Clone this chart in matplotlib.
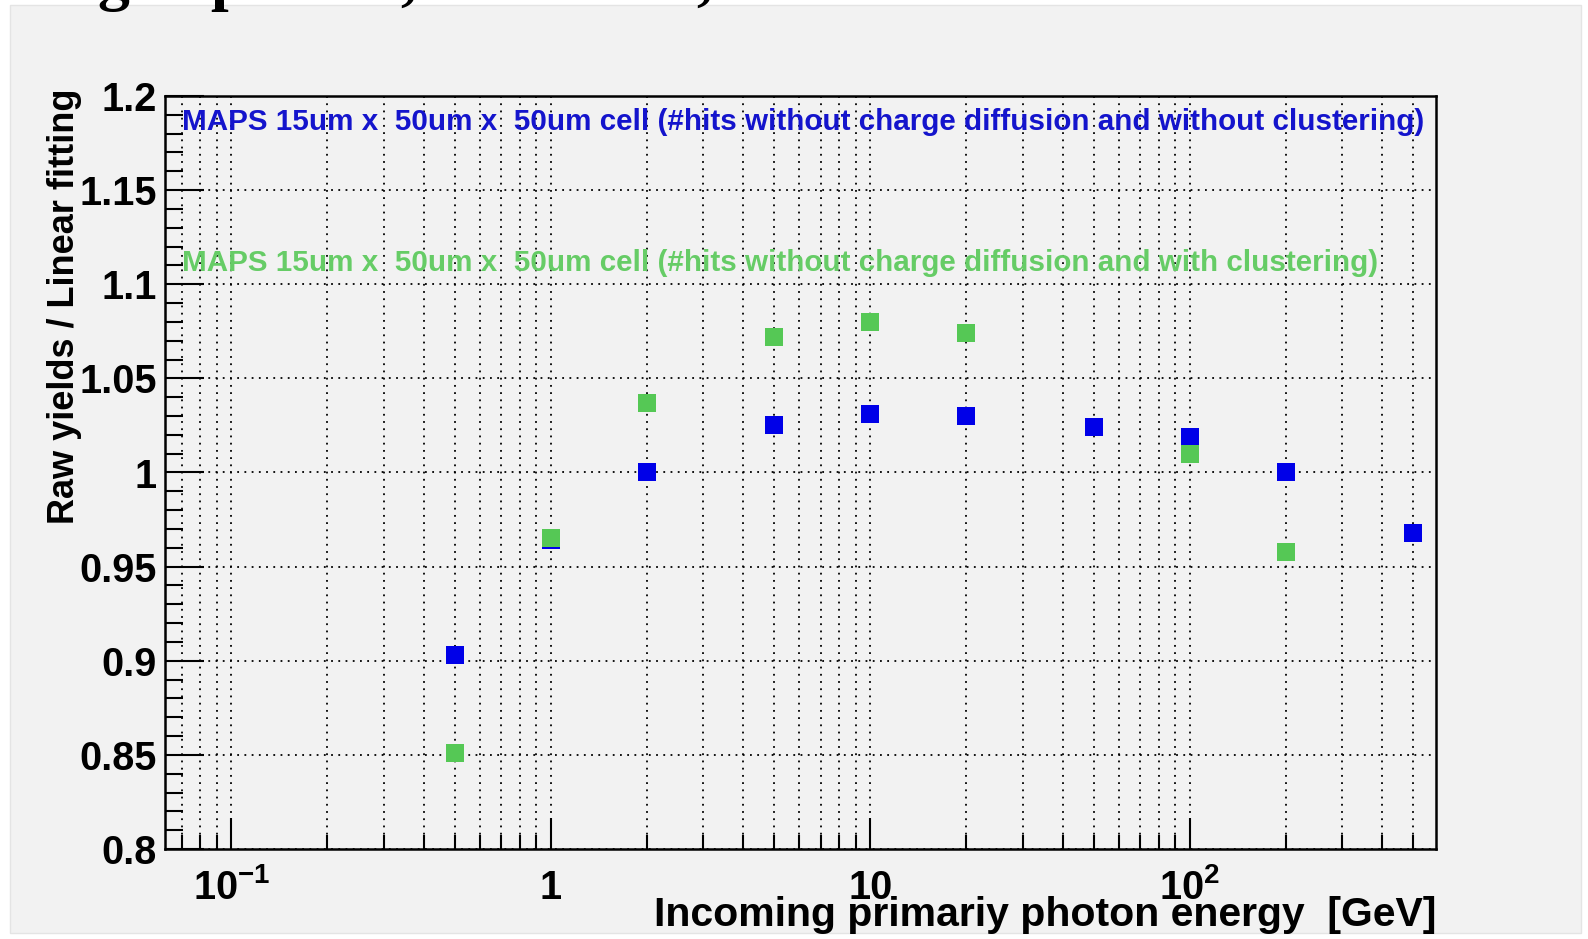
import matplotlib
matplotlib.use("Agg")
import matplotlib.pyplot as plt
from matplotlib.patches import Rectangle
from matplotlib.ticker import LogLocator, NullFormatter, MultipleLocator
import numpy as np

plt.rcParams['font.family'] = ['Liberation Sans', 'DejaVu Sans']
plt.rcParams['mathtext.fontset'] = 'custom'
plt.rcParams['mathtext.rm'] = 'Liberation Sans:bold'
plt.rcParams['mathtext.it'] = 'Liberation Sans:bold'
plt.rcParams['mathtext.bf'] = 'Liberation Sans:bold'

# ---- data ----
energy_blue = [0.5, 1, 2, 5, 10, 20, 50, 100, 200, 500]
ratio_blue = [0.903, 0.964, 1.000, 1.025, 1.031, 1.030, 1.024, 1.019, 1.000, 0.968]
energy_green = [0.5, 1, 2, 5, 10, 20, 100, 200]
ratio_green = [0.851, 0.965, 1.037, 1.072, 1.080, 1.074, 1.010, 0.958]

label_blue = "MAPS 15um x  50um x  50um cell (#hits without charge diffusion and without clustering)"
label_green = "MAPS 15um x  50um x  50um cell (#hits without charge diffusion and with clustering)"
xlabel = "Incoming primariy photon energy  [GeV]"
ylabel = "Raw yields / Linear fitting"
xtick_vals = [0.1, 1, 10, 100]
xtick_labels = ["10$^{-1}$", "1", "10", "10$^{2}$"]
ytick_vals = [0.8, 0.85, 0.9, 0.95, 1.0, 1.05, 1.1, 1.15, 1.2]
ytick_labels = ["0.8", "0.85", "0.9", "0.95", "1", "1.05", "1.1", "1.15", "1.2"]

W, H = 1588, 939
fig = plt.figure(figsize=(W / 100, H / 100), dpi=100, facecolor='white')

# grey canvas panel
fig.patches.append(Rectangle((10 / W, 1 - 933 / H), 1571 / W, 928 / H,
                             transform=fig.transFigure, facecolor='#f2f2f2',
                             edgecolor='#e4e4e4', lw=1, zorder=-5))

# cropped title fragments at the very top
for s, xp in [("g", 97), ("p", 210), (",", 400), (",", 696)]:
    fig.text(xp / W, 1 + 2.0 / H, s, fontsize=46, fontweight='bold',
             family='Liberation Serif', ha='left', va='baseline', color='black')

ax = fig.add_axes([165 / W, 1 - 849 / H, 1271 / W, 753 / H])
ax.set_facecolor('#f2f2f2')
ax.set_xscale('log')
ax.set_xlim(0.062, 590)
ax.set_ylim(0.8, 1.2)

ax.xaxis.set_major_locator(LogLocator(base=10, numticks=20))
ax.xaxis.set_minor_locator(LogLocator(base=10, subs=np.arange(2, 10), numticks=20))
ax.xaxis.set_minor_formatter(NullFormatter())
ax.tick_params(axis='x', which='major', pad=36)
ax.set_xticks(xtick_vals, xtick_labels, va='baseline')
ax.set_yticks(ytick_vals, ytick_labels)
ax.yaxis.set_minor_locator(MultipleLocator(0.01))

for lab in ax.get_xticklabels() + ax.get_yticklabels():
    lab.set_fontweight('bold')
    lab.set_fontsize(28.5)

ax.tick_params(axis='y', which='major', direction='in', length=28, width=1.5, pad=6, left=True, right=False)
ax.tick_params(axis='y', which='minor', direction='in', length=13, width=1.5, left=True, right=False)
ax.tick_params(axis='x', which='major', direction='in', length=22, width=1.5, top=False)
ax.tick_params(axis='x', which='minor', direction='in', length=10, width=1.5, top=False)

for sp in ax.spines.values():
    sp.set_linewidth(1.8)

ax.grid(True, which='major', axis='y', color='black', linestyle=(0, (1, 3)), linewidth=1.3)
ax.grid(True, which='both', axis='x', color='black', linestyle=(0, (1, 3)), linewidth=1.3)
ax.set_axisbelow(True)

ax.plot(energy_blue, ratio_blue, 's', color='#0000e8', markersize=13, markeredgewidth=0, zorder=3)
ax.plot(energy_green, ratio_green, 's', color='#55c855', markersize=13, markeredgewidth=0, zorder=4)

ax.text(0.0134, 0.9655, label_blue, transform=ax.transAxes, ha='left', va='center',
        fontsize=21.3, fontweight='bold', color='#1414cc')
ax.text(0.0134, 0.778, label_green, transform=ax.transAxes, ha='left', va='center',
        fontsize=21.3, fontweight='bold', color='#66cc66')

fig.text(65 / W, 1 - 88 / H, ylabel, rotation=90, ha='center', va='top',
         fontsize=26, fontweight='bold')
fig.text(1436 / W, 1 - 915 / H, xlabel, ha='right', va='center',
         fontsize=29.5, fontweight='bold')

fig.savefig('out.png', dpi=100, facecolor='white')
